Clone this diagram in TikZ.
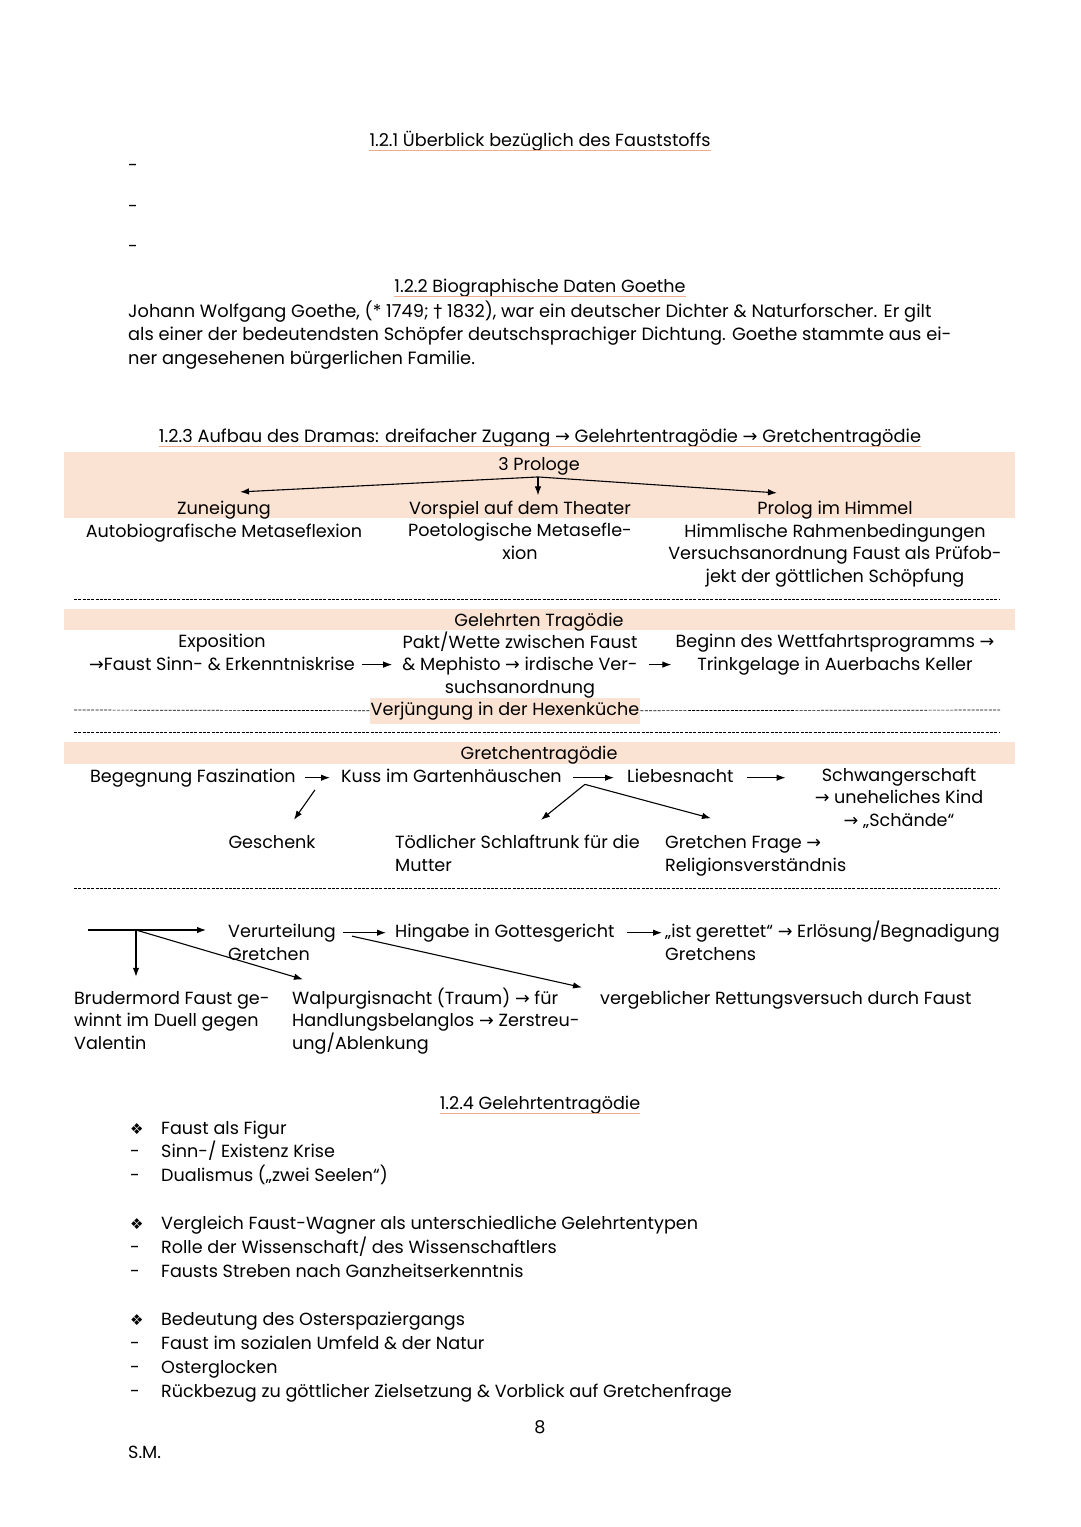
\documentclass[tikz,border=0pt]{standalone}
\usepackage{fontspec}
\setmainfont{Poppins}
\newfontfamily\symfont{DejaVu Sans}
\usepackage{tikz}
\usetikzlibrary{arrows.meta,positioning}

\definecolor{peach}{RGB}{251,227,212}
\definecolor{wavy}{RGB}{236,172,142}
\newcommand{\ra}{{\symfont →}}
\newcommand{\dg}{{\symfont †}}
\newcommand{\bul}{{\symfont\fontsize{15}{15}\selectfont ❖}}
\newcommand{\txt}{\fontsize{17.6}{22.5}\selectfont}

\tikzset{
  lt/.style={anchor=base west, align=left},
  ct/.style={anchor=base, align=center},
  arr/.style={-{Latex[length=9pt,width=6.5pt]}, line width=1.1pt},
  sep/.style={dash pattern=on 3pt off 1.3pt, line width=0.7pt},
  uline/.style={wavy, line width=0.9pt}
}

\begin{document}
\begin{tikzpicture}[x=1pt,y=-1pt, every node/.style={inner sep=0pt, font=\txt}]
\useasboundingbox (0,0) rectangle (1080,1527);
\fill[white] (0,0) rectangle (1080,1527);

% bands
\fill[peach] (64,452) rectangle (1015,518);
\fill[peach] (64,609) rectangle (1015,630);
\fill[peach] (64,742) rectangle (1015,764);

% 1.2.1
\node[ct] (h1) at (540,146) {1.2.1 Überblick bezüglich des Fauststoffs};
\draw[uline] ([yshift=-4pt]h1.base west) -- ([yshift=-4pt]h1.base east);
\foreach \y in {171,212,252} \node[lt] (d\y) at (128,\y) {-};

% 1.2.2
\node[ct] (h2) at (540,292) {1.2.2 Biographische Daten Goethe};
\draw[uline] ([yshift=-4pt]h2.base west) -- ([yshift=-4pt]h2.base east);
\node[lt, font=\fontsize{17.8}{23.5}\selectfont] (bio) at (128,364) {Johann Wolfgang Goethe, (* 1749; \dg{} 1832), war ein deutscher Dichter \& Naturforscher. Er gilt\\
  als einer der bedeutendsten Schöpfer deutschsprachiger Dichtung. Goethe stammte aus ei-\\
  ner angesehenen bürgerlichen Familie.};

% 1.2.3
\node[ct, font=\fontsize{17.8}{22.5}\selectfont] (h3) at (540,442) {1.2.3 Aufbau des Dramas: dreifacher Zugang \ra{} Gelehrtentragödie \ra{} Gretchentragödie};
\draw[uline] ([yshift=-4pt]h3.base west) -- ([yshift=-4pt]h3.base east);

\node[ct] (pro) at (539,470) {3 Prologe};
\node[ct] (zun) at (224,537) {Zuneigung\\Autobiografische Metaseflexion};
\node[ct] (vor) at (520,559) {Vorspiel auf dem Theater\\Poetologische Metasefle-\\xion};
\node[ct] (him) at (835,582) {Prolog im Himmel\\Himmlische Rahmenbedingungen\\Versuchsanordnung Faust als Prüfob-\\jekt der göttlichen Schöpfung};
\coordinate (fork) at ([xshift=-1pt,yshift=-2pt]pro.south);
\draw[arr] (fork) -- ([xshift=16pt,yshift=9pt]zun.north);
\draw[arr] (fork) -- ([xshift=18pt,yshift=5pt]vor.north);
\draw[arr] (fork) -- ([xshift=-58pt,yshift=8pt]him.north);

\draw[sep] (74,599) -- (1000,599);

\node[ct] (gel) at (539,626) {Gelehrten Tragödie};
\node[ct] (exp) at (222,670) {Exposition\\\ra Faust Sinn- \& Erkenntniskrise};
\node[ct] (pakt) at (520,693) {Pakt/Wette zwischen Faust\\\& Mephisto \ra{} irdische Ver-\\suchsanordnung};
\node[ct] (wett) at (835,670) {Beginn des Wettfahrtsprogramms \ra\\Trinkgelage in Auerbachs Keller};
\draw[arr, shorten <=7pt, shorten >=10pt] (exp.east |- pakt.center) -- (pakt.west |- pakt.center);
\draw[arr, shorten <=11pt, shorten >=4pt] (pakt.east |- pakt.center) -- (wett.west |- pakt.center);

\node[ct, fill=peach, inner xsep=1pt, inner ysep=4pt] (hex) at (505,715) {Verjüngung in der Hexenküche};
\draw[sep] (74,710) -- (hex.west);
\draw[sep] (hex.east) -- (1000,710);
\draw[sep] (74,732) -- (1000,732);

% Gretchen
\node[ct] (gre) at (539,759) {Gretchentragödie};
\node[lt] (beg) at (90,782) {Begegnung Faszination};
\node[lt] (kuss) at (341,782) {Kuss im Gartenhäuschen};
\node[lt] (lieb) at (627,782) {Liebesnacht};
\node[ct] (schw) at (899,826) {Schwangerschaft\\\ra{} uneheliches Kind\\\ra{} „Schände“};
\node[ct] (ges) at (272,848) {Geschenk};
\node[lt] (tod) at (395,871) {Tödlicher Schlaftrunk für die\\Mutter};
\node[lt] (frage) at (665,871) {Gretchen Frage \ra\\Religionsverständnis};
\draw[arr, shorten <=9pt, shorten >=11pt] (beg.east) -- (kuss.west |- beg.east);
\draw[arr, shorten <=11pt, shorten >=13pt] (kuss.east |- beg.east) -- (lieb.west |- beg.east);
\draw[arr, shorten <=13pt, shorten >=29pt] (lieb.east |- beg.east) -- (schw.west |- beg.east);
\draw[arr] ([xshift=19pt,yshift=-3pt]beg.south east) -- ([xshift=22pt,yshift=15pt]ges.north);
\coordinate (kfork) at ([xshift=23pt,yshift=-2pt]kuss.south east);
\draw[arr] (kfork) -- ([xshift=146pt,yshift=15pt]tod.north west);
\draw[arr] (kfork) -- ([xshift=46pt,yshift=17pt]frage.north west);

\draw[sep] (74,888) -- (1000,888);

% Ende
\node[lt] (ver) at (228,960) {Verurteilung\\Gretchen};
\node[lt] (hin) at (395,937) {Hingabe in Gottesgericht};
\node[lt] (ger) at (665,960) {„ist gerettet“ \ra{} Erlösung/Begnadigung\\Gretchens};
\node[lt] (bru) at (74,1049) {Brudermord Faust ge-\\winnt im Duell gegen\\Valentin};
\node[lt] (wal) at (292,1049) {Walpurgisnacht (Traum) \ra{} für\\Handlungsbelanglos \ra{} Zerstreu-\\ung/Ablenkung};
\node[lt] (ret) at (600,1004) {vergeblicher Rettungsversuch durch Faust};
\coordinate (st) at (88,930);
\coordinate (br) at ([xshift=48pt]st);
\draw[arr, shorten >=22pt] (st) -- (st -| ver.west);
\draw[arr, shorten >=14pt] (br) -- (br |- bru.north);
\draw[arr] (br) -- ([xshift=11pt,yshift=8pt]wal.north west);
\draw[arr, shorten <=7pt, shorten >=9pt] (ver.east |- hin.west) -- (hin.west);
\draw[arr, shorten <=12pt, shorten >=3pt] (hin.east) -- (hin.east -| ger.west);
\draw[arr] ([xshift=16pt,yshift=6pt]ver.east) -- ([xshift=-18pt,yshift=3pt]ret.north west);

% 1.2.4
\node[ct] (h4) at (540,1109) {1.2.4 Gelehrtentragödie};
\draw[uline] ([yshift=-4pt]h4.base west) -- ([yshift=-4pt]h4.base east);
\foreach \y/\m/\t in {1134/\bul/{Faust als Figur}, 1157/-/{Sinn-/ Existenz Krise}, 1181/-/{Dualismus („zwei Seelen“)},
    1229/\bul/{Vergleich Faust-Wagner als unterschiedliche Gelehrtentypen}, 1253/-/{Rolle der Wissenschaft/ des Wissenschaftlers}, 1277/-/{Fausts Streben nach Ganzheitserkenntnis},
    1325/\bul/{Bedeutung des Osterspaziergangs}, 1349/-/{Faust im sozialen Umfeld \& der Natur}, 1373/-/{Osterglocken}, 1397/-/{Rückbezug zu göttlicher Zielsetzung \& Vorblick auf Gretchenfrage}}
  {\node[lt] (m\y) at (130,\y) {\m};
   \node[lt] (t\y) at (161,\y) {\t};}

\node[ct] (pg) at (540,1433) {8};
\node[lt] (sm) at (128,1458) {S.M.};
\end{tikzpicture}
\end{document}
